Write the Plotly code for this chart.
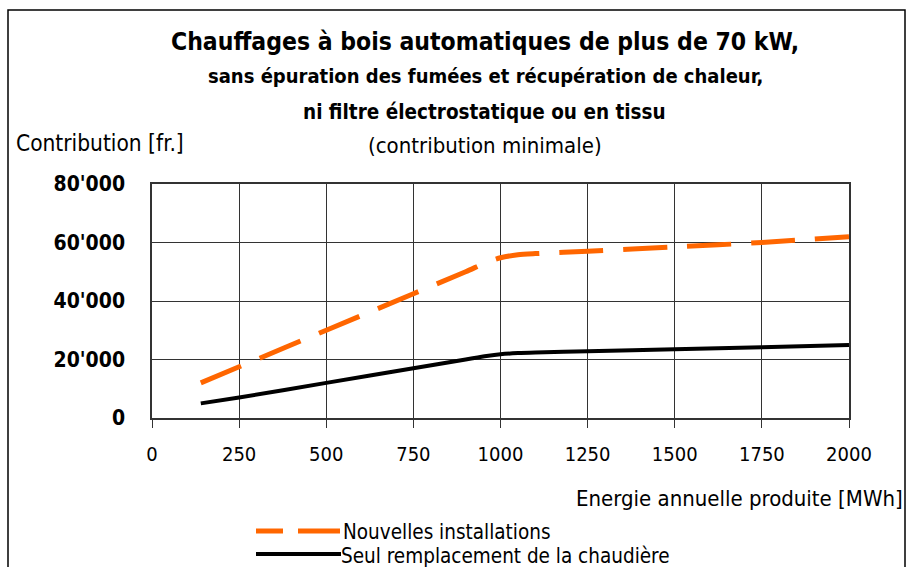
import plotly.graph_objects as go

# Data
energy_new = [140, 250, 500, 750, 900, 960, 1000, 1050, 1100, 1250, 1500, 1750, 2000]
contrib_new = [12000, 17500, 30000, 42500, 50000, 53200, 54800, 55800, 56200, 57000, 58500, 60000, 62000]
energy_repl = [140, 250, 500, 750, 900, 960, 1000, 1050, 1100, 1250, 1500, 1750, 2000]
contrib_repl = [5000, 7000, 12000, 17000, 20000, 21200, 21800, 22200, 22400, 22800, 23500, 24200, 25000]
y_ticks = [0, 20000, 40000, 60000, 80000]
y_tick_labels = ["0", "20'000", "40'000", "60'000", "80'000"]
x_ticks = [0, 250, 500, 750, 1000, 1250, 1500, 1750, 2000]
series_names = ["Nouvelles installations", "Seul remplacement de la chaudière"]

ORANGE = "#FF6600"
FONT = "DejaVu Sans Condensed"

W, H = 907, 567
L, R, T, B = 152, 849, 184, 418


def px(x):
    return (x - L) / (R - L)


def py(y):
    return (B - y) / (B - T)


fig = go.Figure()
fig.add_trace(go.Scatter(x=energy_new, y=contrib_new, mode="lines", name=series_names[0],
                         line=dict(color=ORANGE, width=5, dash="44px,20px", shape="spline", smoothing=0.7)))
fig.add_trace(go.Scatter(x=energy_repl, y=contrib_repl, mode="lines", name=series_names[1],
                         line=dict(color="black", width=4, shape="spline", smoothing=0.7)))

annotations = [
    dict(text="<b>Chauffages à bois automatiques de plus de 70 kW,</b>", x=px(485), y=py(42),
         font=dict(size=24.5)),
    dict(text="<b>sans épuration des fumées et récupération de chaleur,</b>", x=px(485), y=py(76),
         font=dict(size=20)),
    dict(text="<b>ni filtre électrostatique ou en tissu</b>", x=px(484), y=py(112),
         font=dict(size=20.5)),
    dict(text="(contribution minimale)", x=px(485), y=py(146), font=dict(size=22)),
    dict(text="Contribution [fr.]", x=px(100), y=py(143), font=dict(size=22.5)),
    dict(text="Energie annuelle produite [MWh]", x=px(905), y=py(498), xanchor="right",
         font=dict(size=22)),
    dict(text=series_names[0], x=px(341), y=py(532), xanchor="left", font=dict(size=20.5)),
    dict(text=series_names[1], x=px(339), y=py(556), xanchor="left", font=dict(size=20.5)),
]
for a in annotations:
    a.setdefault("xanchor", "center")
    a.update(xref="paper", yref="paper", yanchor="middle", showarrow=False)
    a["font"].update(family=FONT, color="black")

shapes = [
    # outer frame
    dict(type="rect", x0=px(8), x1=px(905), y0=py(10), y1=py(600),
         line=dict(color="black", width=1.5)),
    # legend samples
    dict(type="line", x0=px(256), x1=px(283), y0=py(531), y1=py(531), line=dict(color=ORANGE, width=5)),
    dict(type="line", x0=px(298), x1=px(340), y0=py(531), y1=py(531), line=dict(color=ORANGE, width=5)),
    dict(type="line", x0=px(256), x1=px(341), y0=py(554), y1=py(554), line=dict(color="black", width=4)),
]
for s in shapes:
    s.update(xref="paper", yref="paper")

fig.update_layout(
    width=W, height=H,
    margin=dict(l=L, r=W - R, t=T, b=H - B, pad=0),
    paper_bgcolor="white", plot_bgcolor="white",
    showlegend=False,
    annotations=annotations,
    shapes=shapes,
    font=dict(family=FONT, color="black"),
)
fig.update_xaxes(range=[0, 2000], tickvals=x_ticks, showgrid=True, gridcolor="#333", gridwidth=1,
                 showline=True, linecolor="#333", linewidth=1.5, mirror=True,
                 ticks="outside", ticklen=8, tickcolor="#333", ticklabelstandoff=9,
                 tickfont=dict(family=FONT, size=20), zeroline=False)
fig.update_yaxes(range=[0, 80000], tickvals=y_ticks, ticktext=[f"<b>{t}</b>" for t in y_tick_labels],
                 showgrid=True, gridcolor="#333", gridwidth=1,
                 showline=True, linecolor="#333", linewidth=1.5, mirror=True,
                 ticks="outside", ticklen=21, tickcolor="rgba(0,0,0,0)",
                 tickfont=dict(family=FONT, size=21), zeroline=False)

fig.write_html("out.html", config={"displayModeBar": False},
               post_script="document.body.style.margin='0';document.body.style.overflow='hidden';")
